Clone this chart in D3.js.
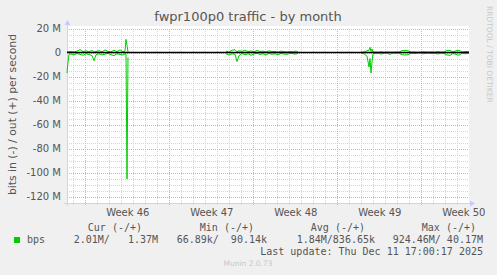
<!DOCTYPE html>
<html><head><meta charset="utf-8">
<script src="https://cdn.jsdelivr.net/npm/d3@7"></script>
<style>
html,body{margin:0;padding:0;background:#f0f0f0;}
svg{display:block;}
text{font-family:"DejaVu Sans",sans-serif;}
.mono{font-family:"DejaVu Sans Mono",monospace;white-space:pre;}
</style></head>
<body>
<svg id="c" width="497" height="275"></svg>
<script>
// ---- data (hours since 2025-11-08 11:24, values in Mbit/s) ----
const hours = [0,2,4,8,14,20,26,32,38,44,50,54,58,64,70,76,82,88,94,100,106,112,116,118,120,122,
  124,
  318,324,330,336,340,344,350,356,362,368,374,380,386,392,398,404,410,416,422,428,434,440,446,452,458,462,
  464,
  588,594,600,604,606,608,610,612,616,622,628,634,640,646,652,658,664,670,676,682,688,694,700,706,712,718,724,730,736,742,748,754,760,766,772,778,784,790,796,802,804];
const inM = [-17,-8,-1.5,-1.2,-1.8,-0.8,-1.5,-2.2,-1.0,-1.6,-2.5,-6.8,-1.8,-1.0,-2.0,-1.3,-0.7,-1.8,-2.5,-1.0,-1.5,-2.0,-1.2,-1.0,-105,-4,
  null,
  -1.0,-2.0,-1.0,-1.5,-7.5,-2.5,-0.8,-1.8,-1.0,-2.2,-1.2,-0.6,-1.6,-1.0,-2.0,-0.8,-1.4,-1.0,-1.8,-0.7,-1.2,-1.5,-0.6,-1.0,-1.3,-0.5,
  null,
  -0.5,-1.0,-3,-12,-5,-17,-8,-1,-0.8,-0.5,-1.2,-0.6,-0.5,-1.5,-0.4,-0.6,-0.5,-1.8,-2.0,-1.8,-0.5,-0.8,-0.6,-0.4,-1.0,-0.7,-0.5,-0.9,-0.6,-1.2,-0.5,-0.8,-2.0,-2.3,-0.8,-1.5,-2.2,-0.6,-1.0,-0.7,-0.5];
const outM = [0.5,0.6,0.8,1.0,0.5,1.2,2.4,0.8,1.5,0.6,1.8,0.4,0.9,1.6,0.5,2.2,1.0,0.6,1.9,0.8,2.3,0.7,1.2,11,6,0.5,
  null,
  1.2,0.4,2.0,2.4,0.6,1.5,1.0,2.0,0.8,1.4,0.6,1.8,0.9,1.2,0.5,1.5,0.8,1.0,0.4,1.2,0.8,0.5,1.0,0.6,1.3,0.4,
  null,
  0.3,0.5,1.5,2,4.3,1,3,0.5,0.4,0.3,0.6,0.3,0.5,0.4,0.3,0.5,0.4,1.6,1.7,1.5,0.4,0.5,0.3,0.4,0.6,0.5,0.4,0.5,0.3,0.8,0.4,0.5,1.8,1.7,0.6,1.5,1.8,0.5,0.8,1.0,0.4];
const yMajorTicks = [20,0,-20,-40,-60,-80,-100,-120];
const weekStarts = ["2025-11-10","2025-11-17","2025-11-24","2025-12-01","2025-12-08"];
const weekLabels = ["Week 46","Week 47","Week 48","Week 49","Week 50"];
const legendHead = ["Cur (-/+)","Min (-/+)","Avg (-/+)","Max (-/+)"];
const legendVals = ["2.01M/   1.37M","66.89k/  90.14k","1.84M/836.65k","924.46M/ 40.17M"];

// ---- setup ----
const svg = d3.select("#c");
const t0 = Date.UTC(2025,10,8,11,24);
const toDate = h => new Date(t0 + h*3600e3);
const L=67, R=469, T=28.5, B=203;
const x = d3.scaleUtc().domain([toDate(0), toDate(804)]).range([L, R]);
const y = d3.scaleLinear().domain([-125, 20]).range([B, T]);

svg.append("rect").attr("x",L).attr("y",26).attr("width",R-L).attr("height",B-26).attr("fill","#fff");

const gGrid = svg.append("g").attr("shape-rendering","crispEdges");
const minorY = d3.range(-125, 21, 5).filter(v => v % 20 !== 0);
gGrid.selectAll(".hm").data(minorY).join("line")
  .attr("x1",L).attr("x2",R).attr("y1",d=>Math.round(y(d))+0.5).attr("y2",d=>Math.round(y(d))+0.5)
  .attr("stroke","#d4d4d4").attr("stroke-dasharray","1,1");
const days = d3.utcDay.range(toDate(0), toDate(804));
gGrid.selectAll(".vm").data(days.filter(d => d.getUTCDay() !== 1)).join("line")
  .attr("x1",d=>Math.round(x(d))+0.5).attr("x2",d=>Math.round(x(d))+0.5).attr("y1",T).attr("y2",B+3)
  .attr("stroke","#d4d4d4").attr("stroke-dasharray","1,1");
gGrid.selectAll(".hM").data(yMajorTicks).join("line")
  .attr("x1",L).attr("x2",R).attr("y1",d=>Math.round(y(d))+0.5).attr("y2",d=>Math.round(y(d))+0.5)
  .attr("stroke","#e8a8a8").attr("stroke-dasharray","1,1");
const weeks = weekStarts.map(s => new Date(s+"T00:00:00Z"));
gGrid.selectAll(".vM").data(weeks).join("line")
  .attr("x1",d=>Math.round(x(d))+0.5).attr("x2",d=>Math.round(x(d))+0.5).attr("y1",T).attr("y2",B+3)
  .attr("stroke","#e8a8a8").attr("stroke-dasharray","1,1");

// axes
svg.append("line").attr("x1",L+0.5).attr("x2",L+0.5).attr("y1",25).attr("y2",B+3).attr("stroke","#d0d4f0");
svg.append("line").attr("x1",L-3).attr("x2",R+2).attr("y1",B+0.5).attr("y2",B+0.5).attr("stroke","#d0d4f0");
svg.append("path").attr("d",`M${L-2.5},${25}L${L+3.5},${25}L${L+0.5},${20}Z`).attr("fill","#c4cbff");
svg.append("path").attr("d",`M${R+1},${B-2.5}L${R+1},${B+3.5}L${R+6},${B+0.5}Z`).attr("fill","#c4cbff");

// data lines
const idx = d3.range(hours.length);
const lineOf = arr => d3.line().defined(i => arr[i] !== null).x(i => x(toDate(hours[i]))).y(i => y(arr[i]));
svg.append("path").attr("d", lineOf(inM)(idx)).attr("fill","none").attr("stroke","#00cc00").attr("stroke-width",1);
svg.append("path").attr("d", lineOf(outM)(idx)).attr("fill","none").attr("stroke","#00cc00").attr("stroke-width",1);
svg.append("line").attr("x1",L).attr("x2",R).attr("y1",y(0)).attr("y2",y(0)).attr("stroke","#000").attr("stroke-width",1.5);

// y labels
svg.selectAll(".yl").data(yMajorTicks).join("text")
  .attr("x",61).attr("y",d=>y(d)+3.5).attr("text-anchor","end").attr("font-size",10).attr("fill","#555")
  .text(d => d===0 ? "0" : d+" M");
// x labels (mid-week)
svg.selectAll(".xl").data(weeks).join("text")
  .attr("x",d=>x(new Date(d.getTime()+3.5*864e5))+0.5).attr("y",216).attr("text-anchor","middle")
  .attr("font-size",10).attr("fill","#555").text((d,i)=>weekLabels[i]);

// title
svg.append("text").attr("x",248).attr("y",21).attr("text-anchor","middle").attr("font-size",13).attr("fill","#555")
  .text("fwpr100p0 traffic - by month");
// y title
svg.append("text").attr("transform","translate(16,114.5) rotate(-90)").attr("text-anchor","middle")
  .attr("font-size",10.8).attr("fill","#555").text("bits in (-) / out (+) per second");
// rrdtool credit
svg.append("text").attr("transform","translate(487,6) rotate(90)").attr("text-anchor","start")
  .attr("font-size",7.5).attr("fill","#c8c8c8").text("RRDTOOL / TOBI OETIKER");

// legend
const headX = [142,254,365,476];
svg.selectAll(".lh").data(legendHead).join("text").attr("class","mono")
  .attr("x",(d,i)=>headX[i]).attr("y",231).attr("text-anchor","end").attr("font-size",10).attr("fill","#555").text(d=>d);
svg.append("rect").attr("x",14).attr("y",237).attr("width",6).attr("height",6).attr("fill","#00cc00");
svg.append("text").attr("class","mono").attr("x",27).attr("y",243).attr("font-size",10).attr("fill","#555").text("bps");
const valX = [158,267,375,483];
svg.selectAll(".lv").data(legendVals).join("text").attr("class","mono")
  .attr("x",(d,i)=>valX[i]).attr("y",243).attr("text-anchor","end").attr("font-size",10).attr("fill","#555").text(d=>d);
svg.append("text").attr("class","mono").attr("x",483).attr("y",255).attr("text-anchor","end").attr("font-size",10).attr("fill","#555")
  .text("Last update: Thu Dec 11 17:00:17 2025");
svg.append("text").attr("x",248).attr("y",266).attr("text-anchor","middle").attr("font-size",7.5).attr("fill","#c8c8c8")
  .text("Munin 2.0.73");
</script>
</body></html>
